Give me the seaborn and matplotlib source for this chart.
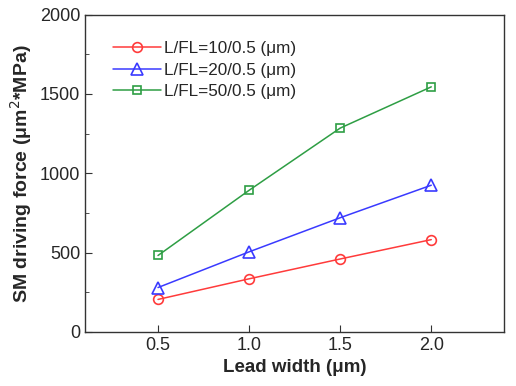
import matplotlib
matplotlib.use("Agg")
import matplotlib.pyplot as plt
import seaborn as sns
import pandas as pd
from matplotlib.ticker import MultipleLocator

lead_width = [0.5, 1.0, 1.5, 2.0]
series_names = ["L/FL=10/0.5 (\u03bcm)", "L/FL=20/0.5 (\u03bcm)", "L/FL=50/0.5 (\u03bcm)"]
vals_10 = [205, 335, 460, 582]
vals_20 = [280, 505, 720, 925]
vals_50 = [482, 893, 1285, 1545]
colors = ["#ff3b3b", "#3a3aff", "#2e9e44"]
markers = ["o", "^", "s"]
msizes = [7, 8.5, 6]

rows = []
for name, vals in zip(series_names, [vals_10, vals_20, vals_50]):
    for x, y in zip(lead_width, vals):
        rows.append({"x": x, "y": y, "series": name})
df = pd.DataFrame(rows)

sns.set_style("ticks")
plt.rcParams['font.family'] = ['Liberation Sans', 'DejaVu Sans']
plt.rcParams['xtick.direction'] = 'in'
plt.rcParams['ytick.direction'] = 'in'

fig = plt.figure(figsize=(5.16, 3.86), dpi=100)
ax = fig.add_axes([0.165, 0.140, 0.812, 0.822])

for name, c, m, ms in zip(series_names, colors, markers, msizes):
    sub = df[df.series == name]
    sns.lineplot(data=sub, x="x", y="y", ax=ax, color=c, marker=m, markersize=ms,
                 markerfacecolor="none", markeredgecolor=c, markeredgewidth=1.2,
                 linewidth=1.1, label=name)

ax.set_xlim(0.1, 2.4)
ax.set_ylim(0, 2000)
ax.set_xticks(lead_width)
ax.set_xticklabels(["0.5", "1.0", "1.5", "2.0"])
ax.yaxis.set_major_locator(MultipleLocator(500))
ax.yaxis.set_minor_locator(MultipleLocator(250))
ax.tick_params(which="both", direction="in", top=False, right=False, labelsize=13, color="#333333")
ax.tick_params(which="major", length=5)
ax.tick_params(which="minor", length=3)
for s in ax.spines.values():
    s.set_visible(True)
    s.set_color("#333333")
    s.set_linewidth(1.0)

ax.set_xlabel("Lead width (\u03bcm)", fontsize=13.5, fontweight="bold")
ax.set_ylabel("SM driving force (\u03bcm$^{2}$*MPa)", fontsize=14, fontweight="bold")

leg = ax.legend(loc="upper left", frameon=False, fontsize=12.3, handlelength=2.8,
                bbox_to_anchor=(0.03, 0.965), labelspacing=0.38, handletextpad=0.2)

fig.savefig("out.png", dpi=100)
